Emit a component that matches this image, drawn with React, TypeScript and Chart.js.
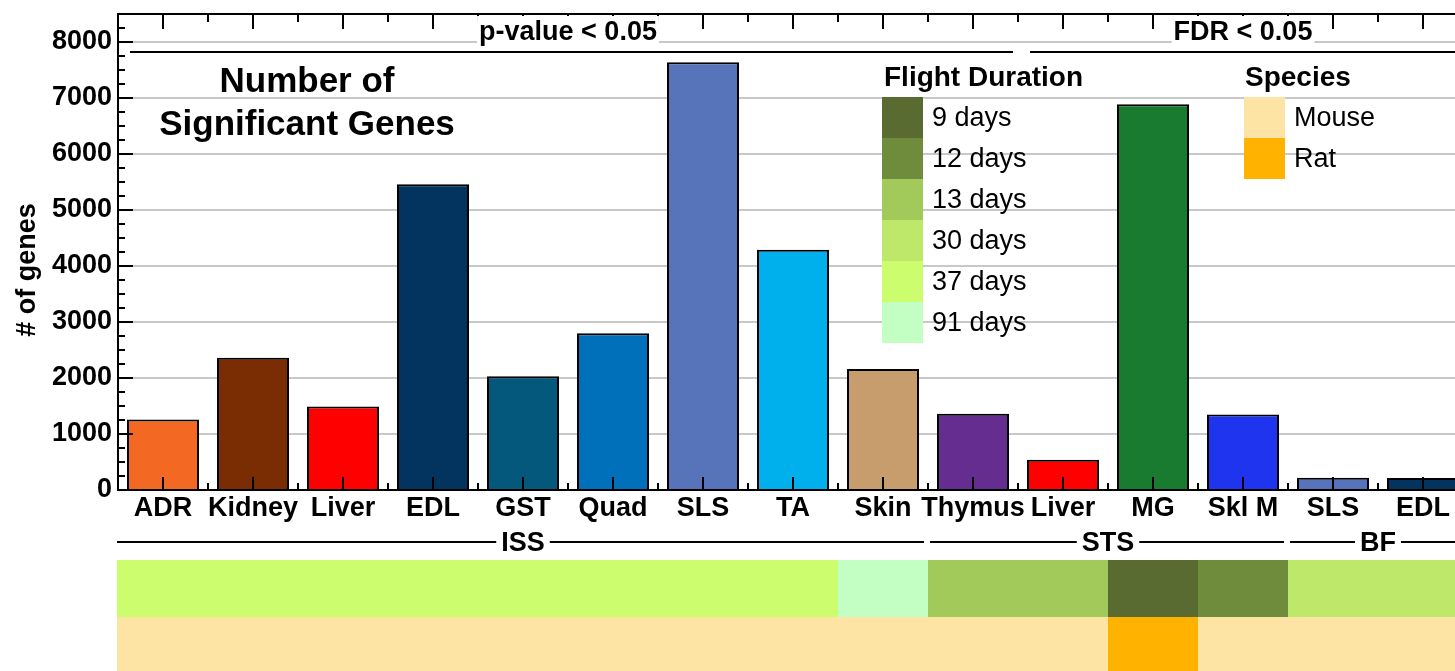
import React, { useEffect, useRef } from 'react';
import { Chart, registerables } from 'chart.js';

Chart.register(...registerables);

const FONT = '"Liberation Sans", Arial, Helvetica, sans-serif';

// ---- data ----
const categories = ['ADR', 'Kidney', 'Liver', 'EDL', 'GST', 'Quad', 'SLS', 'TA', 'Skin', 'Thymus', 'Liver', 'MG', 'Skl M', 'SLS', 'EDL'];
const geneCounts = [1260, 2360, 1490, 5460, 2030, 2800, 7640, 4290, 2160, 1360, 540, 6890, 1350, 220, 215];
const barColors = ['#F36823', '#7A2D02', '#FF0000', '#02345F', '#04587B', '#0070BA', '#5774BB', '#00B0EC', '#C89D6E', '#662D91', '#FF0000', '#187B30', '#1F34EE', '#5774BB', '#02345F'];
const yTickValues = [0, 1000, 2000, 3000, 4000, 5000, 6000, 7000, 8000];
const yMinorValues = [250, 500, 750, 1250, 1500, 1750, 2250, 2500, 2750, 3250, 3500, 3750, 4250, 4500, 4750, 5250, 5500, 5750, 6250, 6500, 6750, 7250, 7500, 7750, 8250, 8500];

const groupNames = ['ISS', 'STS', 'BF'];
const groupFirst = [0, 9, 13];
const groupLast = [8, 12, 14];

const thresholdNames = ['p-value < 0.05', 'FDR < 0.05'];
const thresholdFirst = [0, 10];
const thresholdLast = [9, 14];

const durationLabels = ['9 days', '12 days', '13 days', '30 days', '37 days', '91 days'];
const durationColors = ['#5A6B31', '#6E8C3B', '#A2CA5B', '#BEE869', '#CBFD6E', '#C3FEC2'];
const flightDuration = ['37 days', '37 days', '37 days', '37 days', '37 days', '37 days', '37 days', '37 days', '91 days', '13 days', '13 days', '9 days', '12 days', '30 days', '30 days'];

const speciesLabels = ['Mouse', 'Rat'];
const speciesColors = ['#FDE3A4', '#FFB300'];
const species = ['Mouse', 'Mouse', 'Mouse', 'Mouse', 'Mouse', 'Mouse', 'Mouse', 'Mouse', 'Mouse', 'Mouse', 'Mouse', 'Rat', 'Mouse', 'Mouse', 'Mouse'];

const chartTitle = ['Number of', 'Significant Genes'];
const yTitle = '# of genes';

const decorPlugin = {
  id: 'decor',
  afterDatasetsDraw(chart: any) {
    const { ctx, chartArea } = chart;
    const xs = chart.scales.x;
    const ys = chart.scales.y;
    const half = (xs.getPixelForValue(1) - xs.getPixelForValue(0)) / 2;
    ctx.save();
    ctx.strokeStyle = '#000';
    ctx.lineWidth = 2;
    // top border
    ctx.beginPath();
    ctx.moveTo(chartArea.left - 1, chartArea.top);
    ctx.lineTo(chartArea.right + 20, chartArea.top);
    ctx.stroke();
    // x ticks top & bottom
    for (let i = 0; i < categories.length; i++) {
      const c = xs.getPixelForValue(i);
      const pts = [
        { x: c, major: true },
        { x: c + half, major: false },
      ];
      if (i === 0) pts.push({ x: c - half, major: false });
      for (const p of pts) {
        const x = Math.round(p.x);
        ctx.beginPath();
        ctx.moveTo(x, chartArea.top);
        ctx.lineTo(x, chartArea.top + (p.major ? 15 : 8));
        ctx.stroke();
        ctx.beginPath();
        ctx.moveTo(x, chartArea.bottom);
        ctx.lineTo(x, chartArea.bottom - (p.major ? 13 : 7));
        ctx.stroke();
      }
    }
    // y ticks
    for (const v of yTickValues) {
      const y = Math.round(ys.getPixelForValue(v));
      ctx.beginPath();
      ctx.moveTo(chartArea.left, y);
      ctx.lineTo(chartArea.left + 15, y);
      ctx.stroke();
    }
    for (const v of yMinorValues) {
      const y = Math.round(ys.getPixelForValue(v));
      ctx.beginPath();
      ctx.moveTo(chartArea.left, y);
      ctx.lineTo(chartArea.left + 7, y);
      ctx.stroke();
    }
    ctx.restore();
  },
  afterDraw(chart: any) {
    const { ctx, chartArea } = chart;
    const xs = chart.scales.x;
    const half = (xs.getPixelForValue(1) - xs.getPixelForValue(0)) / 2;
    const left = (i: number) => xs.getPixelForValue(i) - half;
    const right = (i: number) => xs.getPixelForValue(i) + half;
    ctx.save();

    // y axis title
    ctx.save();
    ctx.translate(28, 270);
    ctx.rotate(-Math.PI / 2);
    ctx.font = `bold 27px ${FONT}`;
    ctx.fillStyle = '#000';
    ctx.textAlign = 'center';
    ctx.textBaseline = 'middle';
    ctx.fillText(yTitle, 0, 0);
    ctx.restore();

    // chart title
    ctx.font = `bold 35px ${FONT}`;
    ctx.fillStyle = '#000';
    ctx.textAlign = 'center';
    ctx.textBaseline = 'alphabetic';
    ctx.fillText(chartTitle[0], 307, 92);
    ctx.fillText(chartTitle[1], 307, 135);

    // thresholds (top)
    ctx.font = `bold 27px ${FONT}`;
    for (let g = 0; g < thresholdNames.length; g++) {
      const l = left(thresholdFirst[g]);
      const r = right(thresholdLast[g]);
      const cx = (l + r) / 2;
      const w = ctx.measureText(thresholdNames[g]).width;
      ctx.fillStyle = '#fff';
      ctx.fillRect(cx - w / 2 - 2, chartArea.top + 2, w + 4, 30);
      ctx.fillStyle = '#000';
      ctx.textAlign = 'center';
      ctx.fillText(thresholdNames[g], cx, 40);
      ctx.strokeStyle = '#000';
      ctx.lineWidth = 2;
      ctx.beginPath();
      ctx.moveTo(l + 12, 52);
      ctx.lineTo(r - 5, 52);
      ctx.stroke();
    }

    // duration legend
    ctx.textAlign = 'left';
    ctx.font = `bold 28px ${FONT}`;
    ctx.fillStyle = '#000';
    ctx.fillText('Flight Duration', 884, 86);
    ctx.font = `27px ${FONT}`;
    for (let k = 0; k < durationLabels.length; k++) {
      ctx.fillStyle = durationColors[k];
      ctx.fillRect(882, 97 + 41 * k, 41, 41);
      ctx.fillStyle = '#000';
      ctx.fillText(durationLabels[k], 932, 126 + 41 * k);
    }
    // species legend
    ctx.font = `bold 28px ${FONT}`;
    ctx.fillText('Species', 1245, 86);
    ctx.font = `27px ${FONT}`;
    for (let k = 0; k < speciesLabels.length; k++) {
      ctx.fillStyle = speciesColors[k];
      ctx.fillRect(1244, 97 + 41 * k, 41, 41);
      ctx.fillStyle = '#000';
      ctx.fillText(speciesLabels[k], 1294, 126 + 41 * k);
    }

    // mission groups
    ctx.font = `bold 27px ${FONT}`;
    ctx.textAlign = 'center';
    ctx.strokeStyle = '#000';
    ctx.lineWidth = 2;
    for (let g = 0; g < groupNames.length; g++) {
      const l = left(groupFirst[g]) + (g === 0 ? -1 : 2);
      const r = right(groupLast[g]) - 4;
      const cx = (left(groupFirst[g]) + right(groupLast[g])) / 2;
      const w = ctx.measureText(groupNames[g]).width;
      ctx.beginPath();
      ctx.moveTo(l, 542);
      ctx.lineTo(cx - w / 2 - 5, 542);
      ctx.moveTo(cx + w / 2 + 5, 542);
      ctx.lineTo(r, 542);
      ctx.stroke();
      ctx.fillStyle = '#000';
      ctx.fillText(groupNames[g], cx, 551);
    }

    // heatmap rows
    for (let i = 0; i < categories.length; i++) {
      const l = left(i) - (i === 0 ? 1 : 0);
      const r = right(i);
      ctx.fillStyle = durationColors[durationLabels.indexOf(flightDuration[i])];
      ctx.fillRect(l, 560, r - l + 0.5, 57);
      ctx.fillStyle = speciesColors[speciesLabels.indexOf(species[i])];
      ctx.fillRect(l, 617, r - l + 0.5, 60);
    }
    ctx.restore();
  },
};

export default function App() {
  const ref = useRef<HTMLCanvasElement | null>(null);
  useEffect(() => {
    if (!ref.current) return;
    const chart = new Chart(ref.current, {
      type: 'bar',
      data: {
        labels: categories,
        datasets: [
          {
            data: geneCounts,
            backgroundColor: barColors,
            borderColor: '#000',
            borderWidth: 2,
            barPercentage: 1,
            categoryPercentage: 0.8,
          },
        ],
      },
      options: {
        animation: false,
        responsive: false,
        devicePixelRatio: 1,
        layout: { padding: { top: 14, right: 2, left: 0, bottom: 0 } },
        plugins: { legend: { display: false }, tooltip: { enabled: false }, title: { display: false } },
        scales: {
          x: {
            type: 'category',
            grid: { display: false, drawTicks: false },
            border: { display: true, color: '#000', width: 2 },
            ticks: {
              color: '#000',
              font: { family: FONT, size: 27, weight: 'bold' },
              maxRotation: 0,
              autoSkip: false,
              padding: 2,
            },
            afterFit: (s: any) => {
              s.height = 181;
              s.paddingLeft = 0;
              s.paddingRight = 0;
            },
          },
          y: {
            min: 0,
            max: 8500,
            grid: { color: '#C8C8C8', lineWidth: 2, drawTicks: false },
            border: { display: true, color: '#000', width: 2 },
            ticks: {
              color: '#000',
              font: { family: FONT, size: 27, weight: 'bold' },
              padding: 6,
              callback: (v: any) => String(v),
            },
            afterBuildTicks: (s: any) => {
              s.ticks = yTickValues.map((v) => ({ value: v }));
            },
            afterFit: (s: any) => {
              s.width = 118;
              s.paddingTop = 0;
              s.paddingBottom = 0;
            },
          },
        },
      },
      plugins: [decorPlugin],
    });
    return () => chart.destroy();
  }, []);
  return (
    <div style={{ position: 'absolute', left: 0, top: 0, width: 1455, height: 671, overflow: 'hidden', background: '#fff' }}>
      <canvas ref={ref} width={1470} height={671} style={{ display: 'block' }} />
    </div>
  );
}
